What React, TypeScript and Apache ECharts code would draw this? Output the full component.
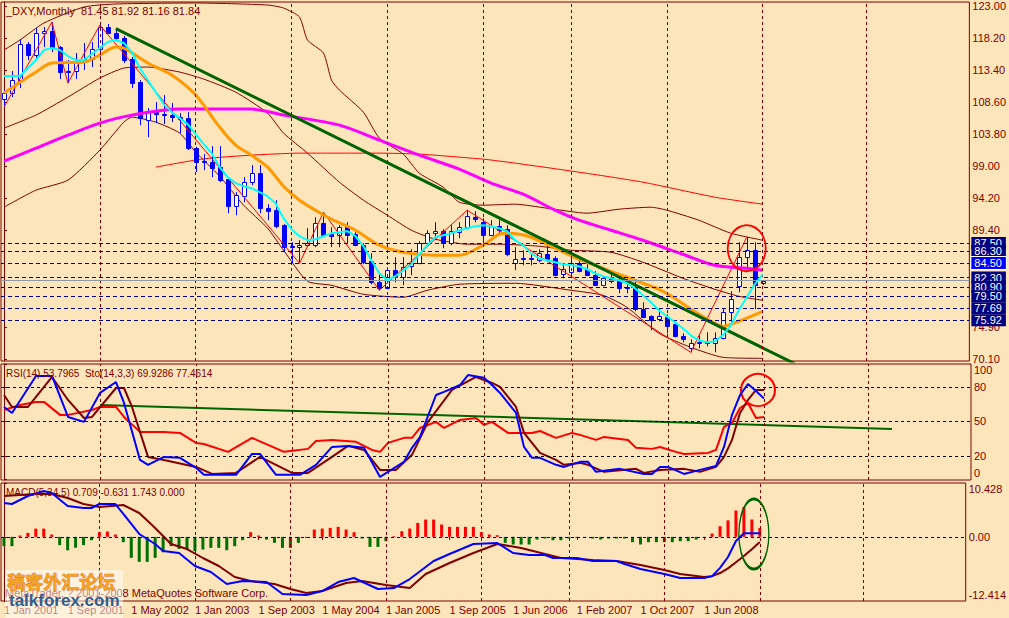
import React, { useEffect, useRef } from 'react';
import * as echarts from 'echarts';

// ---------- DATA ----------
// monthly candles, one per bar index: [open, close, low, high]
const candles: number[][] = [
  [109.05, 109.95, 107.85, 110.4], [109.95, 111.9, 109.35, 113.25], [111.9, 117.3, 110.7, 118.05], [117.3, 115.65, 114.9, 117.6],
  [115.65, 118.95, 114.9, 119.7], [118.95, 119.25, 116.85, 119.85], [119.25, 116.85, 116.1, 120.6], [116.85, 113.1, 112.05, 117.0],
  [113.25, 113.1, 111.45, 114.9], [113.25, 114.6, 112.05, 115.95], [114.6, 115.05, 113.4, 117.45], [115.05, 116.55, 113.85, 117.6],
  [116.55, 119.85, 115.2, 120.15], [119.85, 118.95, 118.8, 120.3], [118.95, 118.2, 117.9, 119.7], [118.2, 114.9, 114.45, 118.5],
  [115.05, 111.45, 110.7, 115.35], [111.6, 106.2, 105.15, 111.9], [105.9, 107.1, 103.35, 107.7], [107.1, 106.8, 105.45, 108.6],
  [106.8, 106.65, 105.3, 109.65], [106.65, 106.35, 105.6, 108.45], [106.35, 106.05, 103.95, 106.95], [106.2, 101.7, 101.4, 107.1],
  [101.7, 99.6, 98.1, 101.9], [99.75, 99.6, 98.4, 100.8], [99.6, 98.7, 97.35, 102.0], [98.85, 96.9, 96.6, 102.0],
  [97.05, 93.0, 91.95, 97.2], [93.0, 94.65, 91.65, 95.1], [94.5, 96.6, 93.6, 97.35], [96.6, 97.95, 96.15, 99.15],
  [97.95, 92.7, 91.95, 99.15], [92.7, 92.25, 90.9, 93.3], [92.4, 90.0, 89.7, 93.9], [90.15, 86.85, 86.1, 90.3],
  [87.0, 86.85, 84.45, 87.6], [86.85, 87.15, 84.45, 87.9], [87.15, 87.45, 86.85, 89.7], [87.15, 90.45, 86.85, 91.35],
  [90.45, 88.65, 88.5, 92.1], [88.8, 88.5, 86.85, 89.85], [88.65, 89.85, 86.85, 90.15], [89.85, 88.65, 87.45, 90.6],
  [88.8, 87.15, 87.0, 89.1], [87.15, 84.6, 84.3, 87.45], [84.75, 81.6, 81.3, 85.95], [81.6, 80.7, 80.4, 82.95],
  [80.7, 83.4, 80.55, 83.85], [83.4, 82.35, 81.6, 85.35], [82.35, 83.85, 81.15, 85.35], [84.0, 84.45, 82.65, 86.55],
  [84.45, 87.45, 84.3, 87.75], [87.45, 88.95, 87.3, 89.4], [88.95, 89.25, 88.2, 90.6], [89.25, 87.45, 86.7, 89.55],
  [87.45, 89.25, 87.15, 90.15], [89.1, 89.85, 88.2, 90.6], [89.85, 91.5, 89.7, 92.4], [91.35, 91.05, 90.6, 92.25],
  [90.6, 88.65, 87.45, 91.2], [88.65, 90.0, 88.5, 90.9], [90.0, 89.4, 88.95, 90.9], [89.55, 85.8, 85.5, 90.15],
  [84.45, 85.05, 83.4, 86.85], [85.2, 85.05, 84.15, 86.4], [85.2, 85.05, 84.15, 85.8], [84.9, 85.95, 84.6, 86.55],
  [85.8, 85.05, 84.9, 87.15], [85.2, 82.65, 82.5, 85.5], [82.8, 83.55, 82.2, 84.45], [83.1, 84.45, 82.8, 85.95],
  [84.45, 83.25, 83.1, 85.2], [83.55, 82.65, 82.5, 84.3], [82.65, 81.15, 81.0, 83.25], [81.15, 82.2, 81.0, 82.5],
  [82.2, 81.75, 81.45, 83.1], [81.75, 80.7, 79.95, 82.65], [80.85, 80.7, 79.95, 82.2], [80.85, 77.55, 77.25, 81.9],
  [77.55, 76.35, 76.2, 78.6], [76.5, 75.9, 74.4, 76.65], [76.05, 76.5, 75.75, 77.7], [76.35, 75.0, 73.95, 76.8],
  [75.3, 73.5, 73.35, 75.6], [73.5, 73.05, 72.6, 73.95], [71.7, 72.45, 71.1, 73.05], [72.45, 72.6, 71.7, 73.65],
  [72.75, 72.45, 72.0, 74.1], [72.45, 73.2, 71.1, 74.1], [73.2, 77.1, 73.05, 77.7], [77.1, 79.05, 75.6, 80.25],
  [81.0, 85.35, 80.1, 87.6], [85.35, 86.4, 83.85, 88.35], [86.4, 81.15, 77.55, 87.6], [81.45, 81.84, 81.16, 81.92],
];

// fast moving average (cyan), one value per bar
const cyanMA = [
  112.5, 112.5, 112.5, 113.7, 114.9, 116.4, 116.7, 116.4, 115.5, 114.9, 114.9, 115.8, 116.7, 117.6, 117.9, 117.45,
  116.1, 113.7, 111.9, 110.1, 108.3, 107.1, 106.2, 105.3, 103.8, 102.3, 100.95, 98.85, 97.35, 96.45, 96.0, 95.7,
  95.1, 94.5, 93.45, 91.2, 89.55, 88.5, 87.9, 88.05, 88.5, 88.95, 89.1, 89.25, 88.5, 87.0, 84.9, 82.95,
  81.9, 82.5, 83.4, 84.3, 85.8, 87.15, 88.35, 88.65, 88.95, 89.4, 89.7, 90.0, 90.15, 90.0, 89.7, 89.25,
  87.9, 87.15, 85.95, 85.2, 84.9, 84.6, 84.3, 84.15, 84.0, 83.55, 82.95, 82.5, 82.2, 81.9, 81.45, 80.7,
  79.65, 78.6, 77.4, 76.5, 75.6, 74.7, 73.65, 72.9, 72.6, 72.75, 73.65, 75.15, 77.4, 79.35, 81.3, 82.8,
];

// [bar, price] samples of the other main-panel lines
const orangeMA: number[][] = [
  [0, 109.95], [4, 113.1], [6, 114.45], [10, 114.6], [12, 115.65], [14, 116.85], [15, 116.7], [18, 114.45], [21, 112.65],
  [24, 109.65], [27, 104.85], [29, 102.15], [31, 100.65], [33, 98.85], [35, 96.0], [37, 93.9], [39, 92.4], [41, 91.05],
  [44, 89.4], [47, 87.15], [50, 86.1], [54, 85.65], [57, 85.65], [60, 87.15], [62, 88.8], [63, 88.95], [66, 88.35],
  [72, 85.05], [79, 81.9], [82, 80.55], [84, 79.2], [86, 77.55], [89, 75.45], [90, 75.0], [92, 75.75], [95, 77.25],
];
const magentaMA: number[][] = [
  [0, 99.75], [4, 101.7], [8, 103.65], [12, 105.45], [16, 106.65], [22, 107.55], [31, 107.55], [35, 106.65], [42, 105.15],
  [47, 102.9], [52, 100.65], [57, 98.55], [61, 96.45], [65, 94.8], [69, 92.4], [72, 90.9], [76, 89.4], [80, 87.9],
  [85, 85.8], [89, 84.15], [93, 83.7], [95, 83.4],
];
const bandUpper: number[][] = [
  [0, 116.4], [2, 117.9], [5, 120.45], [10, 122.85], [14, 123.3], [24, 123.45], [33, 123.15], [35, 122.7], [37, 121.35],
  [38, 117.9], [40, 115.95], [41, 111.9], [42, 110.4], [45, 107.1], [47, 103.2], [50, 100.8], [52, 97.95], [55, 95.85],
  [57, 93.6], [60, 93.15], [64, 93.3], [68, 92.7], [73, 91.95], [77, 92.55], [81, 92.85], [83, 92.4], [87, 90.9],
  [91, 88.95], [95, 87.9],
];
const bandMiddle: number[][] = [
  [0, 104.7], [4, 106.65], [8, 109.35], [12, 112.2], [15, 113.7], [18, 113.85], [22, 113.1], [25, 112.05], [29, 110.1],
  [33, 106.95], [35, 103.95], [38, 100.95], [42, 96.6], [45, 93.9], [48, 91.65], [51, 89.4], [54, 88.05], [58, 87.3],
  [62, 87.3], [67, 87.0], [71, 86.4], [76, 86.1], [80, 84.6], [85, 82.2], [89, 80.55], [92, 79.5], [95, 78.9],
];
const bandLower: number[][] = [
  [0, 92.85], [4, 95.4], [8, 96.9], [12, 101.4], [15, 105.6], [16, 106.35], [19, 105.6], [22, 103.95], [24, 101.1],
  [27, 97.5], [30, 93.15], [33, 89.7], [35, 86.4], [38, 81.75], [41, 81.15], [45, 79.8], [50, 79.35], [53, 80.4],
  [57, 81.3], [64, 81.45], [71, 80.4], [75, 79.65], [78, 77.85], [82, 73.95], [86, 71.85], [90, 70.35], [95, 70.2],
];
const redLongMA: number[][] = [
  [19, 98.85], [25, 100.1], [31, 100.65], [37, 100.95], [47, 100.95], [52, 100.8], [60, 100.05], [64, 99.45], [72, 98.1],
  [80, 96.6], [89, 94.35], [95, 93.3],
];
const zigzag: number[][] = [
  [0, 107.85], [6, 120.6], [8, 111.45], [12, 120.15], [37, 84.45], [40, 92.1], [47, 80.4], [58, 92.4], [86, 71.1], [93, 88.35],
];
const trendMain: number[][] = [[14, 119.6], [99, 69.4]];

// price levels (horizontal dashed lines with boxed labels)
const priceLevels = [87.5, 86.3, 84.5, 82.3, 80.9, 79.5, 77.69, 75.92];
const brightLevel = 84.5;
const bidPrice = 81.84;

// RSI / Stochastic panel
const stochMain: number[][] = [
  [0, 62.6], [1, 57.4], [4, 89.6], [6, 89.6], [8, 53.9], [10, 49.6], [12, 74.8], [14, 84.3], [15, 66.1], [17, 16.5],
  [18, 12.2], [20, 19.1], [22, 18.3], [24, 9.6], [25, 3.5], [29, 3.5], [31, 21.7], [32, 21.7], [34, 3.5], [37, 3.5],
  [39, 12.2], [41, 27.8], [43, 28.7], [45, 27.0], [47, 1.7], [48, 6.1], [50, 14.8], [51, 27.0], [52, 36.5], [54, 73.0],
  [55, 75.7], [57, 81.7], [58, 90.4], [60, 88.0], [61, 81.7], [62, 74.8], [64, 57.4], [65, 27.8], [66, 18.3], [67, 18.3],
  [69, 12.2], [70, 10.4], [72, 14.8], [73, 14.8], [74, 6.1], [77, 8.7], [80, 4.3], [81, 4.3], [82, 10.4], [83, 10.4],
  [85, 4.3], [87, 7.8], [89, 11.3], [90, 27.8], [91, 55.7], [92, 73.0], [93, 82.6], [94, 76.5], [95, 69.93],
];
const stochSignal: number[][] = [
  [0, 73.0], [1, 62.6], [3, 62.6], [6, 88.7], [8, 68.7], [10, 53.0], [11, 53.9], [14, 79.1], [15, 79.1], [16, 62.6],
  [18, 19.1], [20, 16.5], [24, 10.4], [26, 4.3], [29, 5.2], [32, 19.1], [36, 5.2], [38, 5.2], [41, 19.1], [43, 28.7],
  [45, 25.2], [47, 7.8], [49, 7.8], [51, 20.9], [53, 49.6], [56, 77.4], [59, 88.7], [61, 83.5], [62, 80.0], [64, 62.6],
  [65, 40.0], [67, 22.6], [69, 16.5], [70, 12.2], [72, 13.9], [73, 12.2], [75, 6.1], [79, 8.7], [80, 5.2], [82, 7.8],
  [85, 8.7], [87, 6.1], [89, 10.4], [90, 19.1], [91, 33.9], [92, 57.4], [93, 68.7], [94, 77.4], [95, 77.46],
];
const rsi: number[][] = [
  [0, 60.0], [2, 64.3], [4, 67.0], [5, 67.0], [7, 55.7], [8, 55.7], [11, 60.0], [12, 62.6], [14, 62.6], [15, 53.9],
  [17, 40.9], [20, 40.9], [22, 40.0], [24, 31.3], [25, 30.4], [28, 23.5], [31, 35.7], [33, 29.6], [35, 23.5], [38, 26.1],
  [39, 33.0], [41, 33.9], [44, 32.2], [46, 25.2], [47, 23.5], [48, 31.3], [50, 35.7], [51, 35.7], [52, 44.3], [54, 49.6],
  [55, 44.3], [57, 51.3], [59, 53.0], [60, 47.0], [61, 49.6], [63, 40.0], [66, 40.0], [67, 41.7], [69, 35.7], [71, 40.0],
  [72, 38.3], [74, 33.9], [75, 36.5], [78, 33.9], [79, 27.0], [81, 26.1], [82, 27.8], [84, 23.5], [85, 21.7], [88, 22.6],
  [89, 25.2], [90, 45.2], [91, 48.7], [92, 61.7], [93, 66.1], [94, 53.0], [95, 53.8],
];
const trendRsi: number[][] = [[12, 64.3], [111, 43.5]];
const rsiLevels = [20, 50, 80];
const rsiTicks = [0, 20, 50, 80, 100];

// MACD panel
const macdHist = [
  -1.8, -1.8, 0.26, 0.77, 1.6, 1.6, 0.45, -1.6, -2.6, -2.1, -1.6, -0.65, 0.9, 1.03, 0.45, -1.03,
  -4.06, -4.84, -4.84, -4.06, -2.97, -1.8, -2.32, -2.45, -2.77, -2.45, -2.13, -2.13, -2.58, -1.8, -0.65, 0.9,
  0.26, -0.52, -1.16, -2.13, -2.13, -1.16, -0.2, 1.42, 1.61, 1.74, 1.94, 1.42, 0.9, -0.32, -1.94, -1.94,
  -0.84, 0.13, 1.1, 1.61, 2.71, 3.35, 3.35, 2.39, 1.94, 1.94, 1.94, 1.94, 0.9, 0.45, 0.32, -1.16,
  -1.48, -1.48, -1.48, -0.52, -0.32, -0.65, -0.65, -0.32, -0.2, -0.2, -0.32, -0.52, -0.32, -0.32, -0.32, -1.03,
  -1.48, -1.03, -1.03, -1.03, -1.03, -0.84, -0.84, -0.52, -0.2, 0.65, 2.06, 3.2, 5.1, 5.8, 3.36, 1.74,
];
const macdMain: number[][] = [
  [0, 6.56], [1, 6.36], [3, 7.91], [5, 8.88], [6, 8.49], [8, 5.98], [10, 5.59], [11, 5.59], [12, 6.36], [14, 6.36],
  [15, 4.43], [17, 0.56], [19, -1.38], [20, -2.73], [22, -3.12], [24, -5.64], [26, -6.8], [28, -9.12], [30, -8.54],
  [33, -8.74], [35, -11.06], [38, -11.25], [40, -10.48], [42, -8.74], [44, -7.96], [47, -10.09], [49, -9.9], [51, -8.16],
  [54, -4.67], [56, -3.32], [59, -1.38], [62, -1.19], [64, -3.12], [66, -3.51], [68, -3.51], [69, -4.09], [72, -4.09],
  [74, -4.67], [77, -4.67], [78, -5.25], [80, -6.22], [83, -7.19], [85, -7.96], [88, -7.96], [89, -7.6], [90, -6.0],
  [91, -3.9], [92, -0.8], [93, 0.7], [94, 0.7], [95, 0.709],
];
const macdSignal: number[][] = [
  [0, 7.91], [4, 8.3], [6, 8.3], [8, 7.52], [10, 6.36], [12, 5.78], [15, 6.17], [17, 4.62], [19, 1.72], [21, -1.38],
  [23, -2.35], [25, -4.09], [27, -5.64], [29, -7.77], [31, -8.54], [34, -9.12], [36, -10.09], [38, -10.87], [40, -10.48],
  [43, -8.93], [45, -8.54], [48, -9.32], [51, -9.9], [53, -7.19], [56, -5.06], [59, -3.12], [62, -1.38], [65, -2.15],
  [68, -3.32], [70, -4.09], [74, -4.48], [77, -4.67], [80, -5.45], [83, -6.41], [85, -7.19], [88, -7.77], [89, -7.6],
  [90, -7.0], [91, -6.1], [92, -4.9], [93, -3.7], [94, -2.4], [95, -1.0],
];
const macdTicks = [-12.414, 0, 10.428];

// axes
const priceTicks = [123.0, 118.2, 113.4, 108.6, 103.8, 99.0, 94.2, 89.4, 74.9, 70.1];
const yearBars = [12, 24, 36, 48, 60, 71, 83, 95, 108];
const xLabelBars = [0, 8, 16, 24, 32, 40, 48, 56, 64, 72, 80, 88];
const xLabels = ['1 Jan 2001', '1 Sep 2001', '1 May 2002', '1 Jan 2003', '1 Sep 2003', '1 May 2004',
  '1 Jan 2005', '1 Sep 2005', '1 Jun 2006', '1 Feb 2007', '1 Oct 2007', '1 Jun 2008'];

// ---------- STYLE ----------
const BG = '#FCE5BA';
const FG = '#800000';
const FONT = "'Liberation Sans Narrow', 'Liberation Sans', Arial, sans-serif";
const FS = 11;
const XMIN = -0.375;
const XMAX = 120.875;

function lineSeries(data: number[][], color: string, width: number, grid: number, z: number, extra: any = {}) {
  return {
    type: 'line', data, xAxisIndex: grid, yAxisIndex: grid, symbol: 'none', showSymbol: false,
    lineStyle: { color, width }, itemStyle: { color }, z, silent: true, clip: true, ...extra,
  };
}

function vLines() {
  return yearBars.map((b) => ({ xAxis: b, lineStyle: { color: FG, type: [3, 3], width: 1 } }));
}

function buildOption(): any {
  const xAxis = [0, 1, 2].map((g) => ({
    type: 'value', gridIndex: g, min: XMIN, max: XMAX, show: g === 2,
    axisLine: { show: false }, splitLine: { show: false },
    axisTick: { show: g === 2, customValues: xLabelBars, length: 3, lineStyle: { color: FG } },
    axisLabel: {
      show: g === 2, customValues: xLabelBars, align: 'left', margin: 3, color: FG, fontSize: FS, fontFamily: FONT,
      formatter: (v: number) => xLabels[xLabelBars.indexOf(v)] ?? '',
    },
  }));
  const richTB = {
    t: { padding: [12, 0, 0, 0], color: FG, fontSize: FS, fontFamily: FONT },
    b: { padding: [0, 0, 12, 0], color: FG, fontSize: FS, fontFamily: FONT },
  };
  const yBase = (g: number, min: number, max: number, ticks: number[], fmt: (v: number) => string) => ({
    type: 'value', gridIndex: g, position: 'right', min, max,
    axisLine: { show: true, lineStyle: { color: FG } }, splitLine: { show: false },
    axisTick: { show: true, inside: false, length: 3, customValues: ticks, lineStyle: { color: FG } },
    axisLabel: { customValues: ticks, margin: 3, color: FG, fontSize: FS, fontFamily: FONT, formatter: fmt, rich: richTB },
  });
  const yAxis = [
    yBase(0, 69.8, 123.6, priceTicks, (v) => v.toFixed(2)),
    yBase(1, -1, 100, rsiTicks, (v) => (v === 100 ? '{t|100}' : v === 0 ? '{b|0}' : String(v))),
    yBase(2, -12.414, 10.428, macdTicks, (v) => (v === 0 ? '0.00' : v > 0 ? '{t|' + v.toFixed(3) + '}' : '{b|' + v.toFixed(3) + '}')),
  ];

  const levelLines = priceLevels.map((p) => ({
    yAxis: p,
    lineStyle: { color: '#000080', type: [4, 3], width: 1 },
    label: {
      show: true, position: 'end', distance: 2, formatter: () => p.toFixed(2),
      color: '#FFFFFF', backgroundColor: p === brightLevel ? '#0000FF' : '#000080',
      borderColor: p === brightLevel ? '#FFFFFF' : 'transparent', borderWidth: p === brightLevel ? 1 : 0,
      padding: [1, 4, 0, 3], fontSize: FS, fontFamily: FONT, lineHeight: 11,
    },
  }));

  const mainMarks = {
    symbol: ['none', 'none'], silent: true, label: { show: false }, animation: false,
    data: [
      ...vLines(),
      ...levelLines,
      { yAxis: bidPrice, lineStyle: { color: '#8C98A4', type: 'solid', width: 1 }, label: { show: false } },
    ],
  };

  const candleSeries = {
    type: 'custom', xAxisIndex: 0, yAxisIndex: 0, z: 3, silent: true,
    data: candles.map((c, i) => [i, c[0], c[1], c[2], c[3]]),
    encode: { x: 0, y: [1, 2, 3, 4] },
    renderItem: (_params: any, api: any) => {
      const i = api.value(0);
      const o = api.value(1), c = api.value(2), l = api.value(3), h = api.value(4);
      const po = api.coord([i, o]), pc = api.coord([i, c]), pl = api.coord([i, l]), ph = api.coord([i, h]);
      const x = Math.round(po[0]) + 0.5;
      const top = Math.round(Math.min(po[1], pc[1])) + 0.5;
      const bot = Math.round(Math.max(po[1], pc[1])) + 0.5;
      const bull = c >= o;
      return {
        type: 'group',
        children: [
          { type: 'line', shape: { x1: x, y1: ph[1], x2: x, y2: pl[1] }, style: { stroke: '#0000FF', lineWidth: 1 } },
          { type: 'rect', shape: { x: x - 2, y: top, width: 4, height: Math.max(bot - top, 1) },
            style: { fill: bull ? '#FFFFFF' : '#0000FF', stroke: '#0000FF', lineWidth: 1 } },
        ],
      };
    },
  };

  const circle = (coord: number[], size: number[], color: string) => ({
    symbol: 'circle', silent: true, animation: false,
    data: [{ coord, symbolSize: size, itemStyle: { color: 'rgba(0,0,0,0)', borderColor: color, borderWidth: 2 }, label: { show: false } }],
  });

  const series: any[] = [
    lineSeries(bandUpper, FG, 1, 0, 2, { smooth: 0.2, markLine: mainMarks }),
    lineSeries(bandMiddle, FG, 1, 0, 2, { smooth: 0.2 }),
    lineSeries(bandLower, FG, 1, 0, 2, { smooth: 0.2 }),
    lineSeries(redLongMA, '#FF0000', 1, 0, 2, { smooth: 0.2 }),
    candleSeries,
    lineSeries(zigzag, '#FF0000', 1, 0, 4),
    lineSeries(magentaMA, '#FF00FF', 3, 0, 4, { smooth: 0.3 }),
    lineSeries(orangeMA, '#FF9900', 3, 0, 4, { smooth: 0.3 }),
    lineSeries(trendMain, '#006400', 3, 0, 4),
    lineSeries(cyanMA.map((v, i) => [i, v]), '#00FFFF', 2, 0, 5, { markPoint: circle([93, 86.7], [38, 46], '#FF0000') }),

    // RSI / Stochastic
    lineSeries(trendRsi, '#006400', 2, 1, 3, {
      markLine: {
        symbol: ['none', 'none'], silent: true, label: { show: false },
        data: [...vLines(), ...rsiLevels.map((v) => ({ yAxis: v, lineStyle: { color: '#000000', type: [3, 3], width: 1 } }))],
      },
    }),
    lineSeries(rsi, '#FF0000', 2, 1, 4),
    lineSeries(stochSignal, FG, 2, 1, 4),
    lineSeries(stochMain, '#0000FF', 2, 1, 5, { markPoint: circle([94.25, 77.4], [34, 32], '#FF0000') }),

    // MACD
    {
      type: 'bar', xAxisIndex: 2, yAxisIndex: 2, barWidth: 3, z: 3, silent: true,
      data: macdHist.map((v, i) => ({ value: [i, v], itemStyle: { color: v >= 0 ? '#FF0000' : '#007000' } })),
      markLine: {
        symbol: ['none', 'none'], silent: true, label: { show: false },
        data: [...vLines(), { yAxis: 0, lineStyle: { color: '#000000', type: [3, 3], width: 1 } }],
      },
    },
    lineSeries(macdSignal, FG, 2, 2, 4),
    lineSeries(macdMain, '#0000FF', 2, 2, 5, { markPoint: circle([94.25, 0.55], [30, 70], '#006400') }),
  ];

  const titleStyle = { color: FG, fontSize: FS, fontWeight: 'normal', fontFamily: FONT };
  const subTitleStyle = { ...titleStyle, fontSize: 10 };
  return {
    animation: false,
    backgroundColor: BG,
    textStyle: { fontFamily: FONT },
    title: [
      { text: '_DXY,Monthly  81.45 81.92 81.16 81.84', left: 6, top: 5, padding: 0, textStyle: titleStyle },
      { text: 'RSI(14) 53.7965  Sto(14,3,3) 69.9286 77.4614', left: 6, top: 368, padding: 0, textStyle: subTitleStyle },
      { text: 'MACD(5,34,5) 0.709 -0.631 1.743 0.000', left: 6, top: 487, padding: 0, textStyle: subTitleStyle },
    ],
    grid: [
      { left: 1, top: 2, width: 970, height: 359, show: true, borderColor: FG, borderWidth: 1, backgroundColor: 'transparent' },
      { left: 1, top: 364, width: 970, height: 116, show: true, borderColor: FG, borderWidth: 1, backgroundColor: 'transparent' },
      { left: 1, top: 483, width: 970, height: 118, show: true, borderColor: FG, borderWidth: 1, backgroundColor: 'transparent' },
    ],
    xAxis,
    yAxis,
    series,
    graphic: [
      { type: 'text', left: 5, top: 587, z: 50, silent: true,
        style: { text: 'MetaTrader, ? 2001-2008 MetaQuotes Software Corp.', fill: FG, font: `${FS}px ${FONT}` } },
      { type: 'rect', left: 5, top: 570, z: 60, silent: true, shape: { width: 118, height: 48 },
        style: { fill: 'rgba(255,255,255,0.5)' } },
      { type: 'text', left: 7, top: 572, z: 61, silent: true,
        style: { text: '稿客外汇论坛', fill: '#F2A31F', stroke: '#D9531E', lineWidth: 0.6,
          font: "bold 18px 'Noto Sans CJK SC', sans-serif" } },
      { type: 'text', left: 9, top: 592, z: 61, silent: true,
        style: { text: 'talkforex.com', fill: '#2F5E8C', font: "bold 17px 'Liberation Sans', Arial, sans-serif" } },
    ],
  };
}

export default function App() {
  const ref = useRef<HTMLDivElement>(null);
  useEffect(() => {
    if (!ref.current) return;
    const chart = echarts.init(ref.current, null, { renderer: 'svg' });
    chart.setOption(buildOption());
    return () => chart.dispose();
  }, []);
  return <div ref={ref} style={{ position: 'absolute', left: 0, top: 0, width: 1009, height: 618 }} />;
}
